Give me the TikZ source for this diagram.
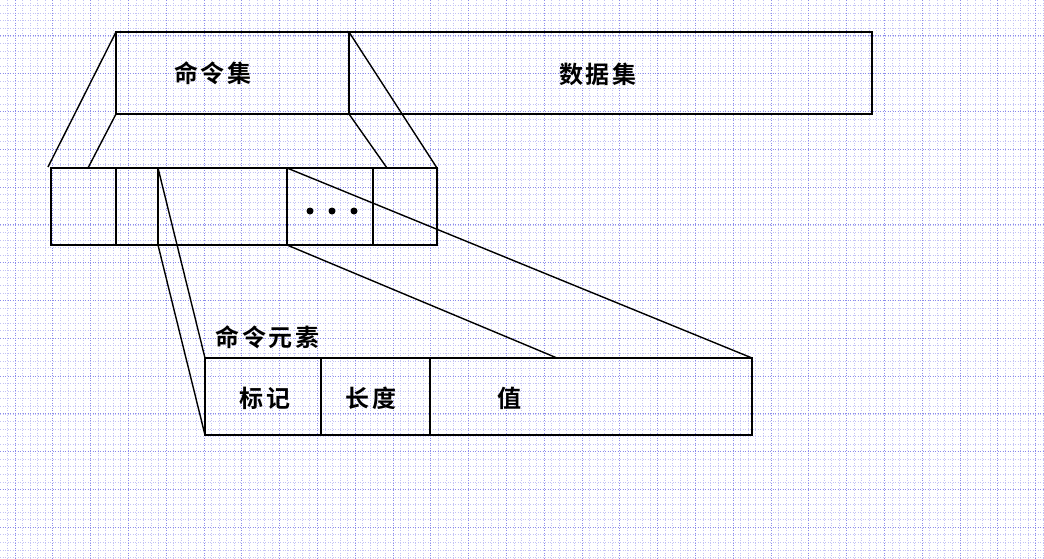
\documentclass[tikz,border=0pt]{standalone}
\usepackage{fontspec}
\setmainfont{Noto Sans CJK SC}[LetterSpace=12,BoldFont={Noto Sans CJK SC Bold}]
\definecolor{gridmajor}{RGB}{140,140,235}
\definecolor{gridminor}{RGB}{195,195,245}
\begin{document}
\begin{tikzpicture}[x=1pt,y=-1pt,
  minorgrid/.style={gridminor,line width=0.8pt,dash pattern=on 1pt off 1.5pt},
  majorgrid/.style={gridmajor,line width=0.9pt,dash pattern=on 1pt off 1.5pt},
  cell/.style={draw,line width=1.7pt,rectangle,inner sep=0pt,outer sep=0pt,anchor=north west},
  bigcell/.style={cell,line width=2.1pt},
  divider/.style={line width=2.7pt},
  conn/.style={line width=1.4pt},
  lbl/.style={font=\fontsize{24}{24}\selectfont\bfseries,inner sep=0pt},
  dot/.style={circle,fill,inner sep=0pt,minimum size=7pt}]
\useasboundingbox (0,0) rectangle (1044,558);
\fill[white] (0,0) rectangle (1044,558);
% grid
\foreach \i in {0,...,138} {\draw[minorgrid] ({-0.12+7.56*\i},0) -- ({-0.12+7.56*\i},558);}
\foreach \i in {0,...,74} {\draw[minorgrid] (0,{-1.9+7.56*\i}) -- (1044,{-1.9+7.56*\i});}
\foreach \i in {0,...,27} {\draw[majorgrid] ({15+37.8*\i},0) -- ({15+37.8*\i},558);}
\foreach \i in {1,...,14} {\draw[majorgrid] (0,{-1.9+37.8*\i}) -- (1044,{-1.9+37.8*\i});}
% top boxes
\node[bigcell,minimum width=233pt,minimum height=82pt] (cmdset) at (116,32) {};
\node[bigcell,minimum width=523pt,minimum height=82pt] (dataset) at (349,32) {};
\node[lbl] (tcmdset) at (213,73) {命令集};
\node[lbl] (tdataset) at (598,74) {数据集};
% middle strip
\node[cell,minimum width=65pt,minimum height=77pt] (c1) at (51,168) {};
\node[cell,minimum width=42pt,minimum height=77pt] (c2) at (116,168) {};
\node[cell,minimum width=129pt,minimum height=77pt] (c3) at (158,168) {};
\node[cell,minimum width=86pt,minimum height=77pt] (c4) at (287,168) {};
\node[cell,minimum width=64pt,minimum height=77pt] (c5) at (373,168) {};
\draw[divider] (c3.north west) -- (c3.south west);
\draw[divider] (c4.north west) -- (c4.south west);
\draw[divider] (c5.north west) -- (c5.south west);
\node[dot] (d1) at (310,211) {};
\node[dot] (d2) at (332,211) {};
\node[dot] (d3) at (354,211) {};
% bottom box
\node[bigcell,minimum width=116pt,minimum height=77pt] (tag) at (205,358) {};
\node[bigcell,minimum width=109pt,minimum height=77pt] (len) at (321,358) {};
\node[bigcell,minimum width=322pt,minimum height=77pt] (val) at (430,358) {};
\node[lbl] (ttag) at (265,398) {标记};
\node[lbl] (tlen) at (371,398) {长度};
\node[lbl] (tval) at (509,398) {值};
\node[lbl] (telem) at (267.5,337) {命令元素};
% connector free ends
\coordinate (a1) at (48,167);
\coordinate (a2) at (88,168);
\coordinate (a3) at (387,168);
\coordinate (a4) at (557,358);
% connectors
\draw[conn] (cmdset.north west) -- (a1);
\draw[conn] (cmdset.south west) -- (a2);
\draw[conn] (cmdset.north east) -- (c5.north east);
\draw[conn] (cmdset.south east) -- (a3);
\draw[conn] (c3.north west) -- (tag.north west);
\draw[conn] (c3.south west) -- (tag.south west);
\draw[conn] (c4.north west) -- (val.north east);
\draw[conn] (c4.south west) -- (a4);
\end{tikzpicture}
\end{document}
